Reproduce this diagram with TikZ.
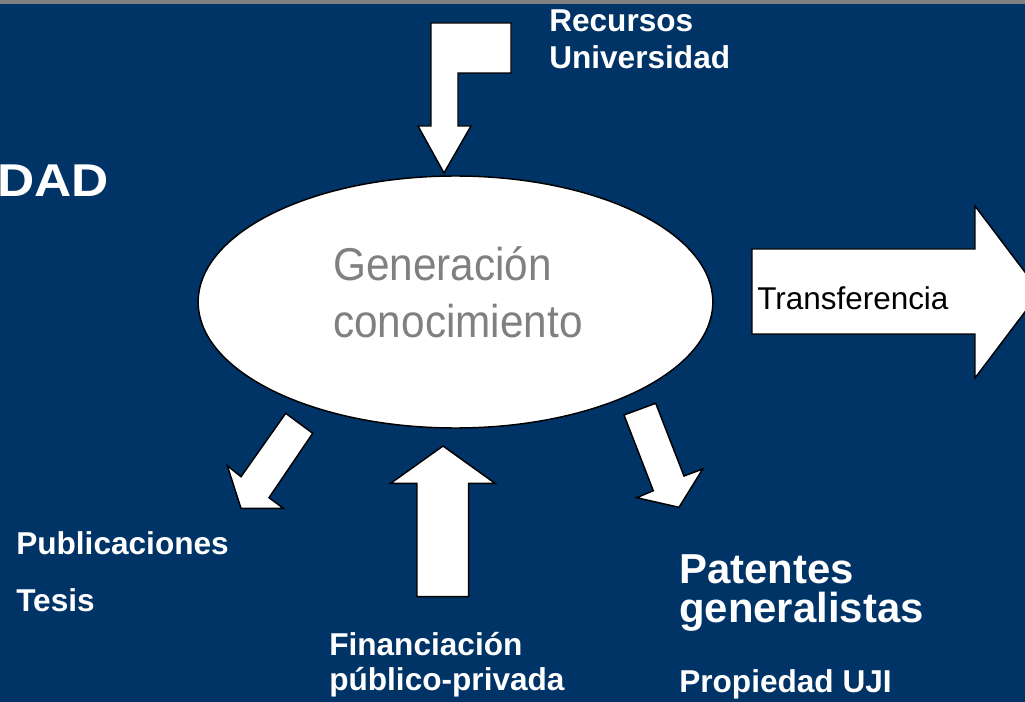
\documentclass[tikz,border=0pt]{standalone}
\usepackage{fontspec}
\setmainfont{Liberation Sans}
\newfontfamily\narrowfont[FakeStretch=0.92]{Liberation Sans}
\newfontfamily\wideboldfont[FakeStretch=1.12]{Liberation Sans Bold}
\usetikzlibrary{positioning, shapes.geometric}
\definecolor{uniblue}{RGB}{0,51,102}
\definecolor{bandgray}{RGB}{128,128,128}
\definecolor{textgray}{RGB}{128,128,128}
\tikzset{
  blockarrow/.style = {
    fill = white, draw = black, line width = 1.1pt, line join = miter,
  }
}
\tikzset{
  label1/.style = {
    anchor = base west, inner sep = 0pt, text = white,
    font = \bfseries\fontsize{23.7}{28}\selectfont,
  },
  label2/.style = {
    label1, font = \bfseries\fontsize{31.4}{36}\selectfont,
  },
  genlabel/.style = {
    anchor = base west, inner sep = 0pt, text = textgray,
    font = \narrowfont\fontsize{34.5}{40}\selectfont,
  }
}

\begin{document}
\begin{tikzpicture}[x = 0.75pt, y = -0.75pt]
            \useasboundingbox (0,0) rectangle (1025,702);
            \clip (0,0) rectangle (1025,702);
            \fill[uniblue] (0,0) rectangle (1025,702);
            \fill[bandgray] (0,0) rectangle (1025,4);
            % flechas
            \draw[blockarrow] (431,23) -- (511,23) -- (511,73) -- (458,73) -- (458,126)
              -- (471,126) -- (444,173) -- (418,126) -- (431,126) -- cycle;
            \draw[blockarrow] (752,249) -- (975,249) -- (975,206) -- (1040,292)
              -- (975,378) -- (975,334) -- (752,334) -- cycle;
            \draw[blockarrow] (285.7,413.3) -- (312.7,433.3) -- (269,497.7) -- (283.3,508.3)
              -- (241,508.3) -- (227.3,465.7) -- (241,476.7) -- cycle;
            \draw[blockarrow] (443,446) -- (495,483.3) -- (468.7,483.3) -- (468.7,596.7)
              -- (417,596.7) -- (417,483.3) -- (390.7,483.3) -- cycle;
            \draw[blockarrow] (624,415) -- (655.7,403.3) -- (684,476) -- (702.7,469)
              -- (679,507.3) -- (636.7,497.7) -- (653.3,490.7) -- cycle;
            % elipse
            \node[ellipse, draw = black, line width = 1.1pt, fill = white, inner sep = 0pt,
              minimum width = 386pt, minimum height = 189pt](gen) at (455.5,302){};
            \node[genlabel](gen1) at (333,281){Generación};
            \node[genlabel](gen2) at (333,338){conocimiento};
            \node[anchor = base west, inner sep = 0pt, font = \fontsize{23.6}{28}\selectfont]
              (transf) at (757,310){Transferencia};
            % textos
            \node[label1](rec1) at (549,32){Recursos};
            \node[label1](rec2) at (549,69){Universidad};
            \node[label1, anchor = base east, font = \wideboldfont\fontsize{34.5}{40}\selectfont]
              (dad) at (109,197){DAD};
            \node[label1](pub) at (16,554){Publicaciones};
            \node[label1](tes) at (16,611){Tesis};
            \node[label1](fin1) at (329,655){Financiación};
            \node[label1](fin2) at (329,690){público-privada};
            \node[label2](pat1) at (679,583){Patentes};
            \node[label2](pat2) at (679,622){generalistas};
            \node[label1](prop) at (679,692){Propiedad UJI};
        \end{tikzpicture}
\end{document}
